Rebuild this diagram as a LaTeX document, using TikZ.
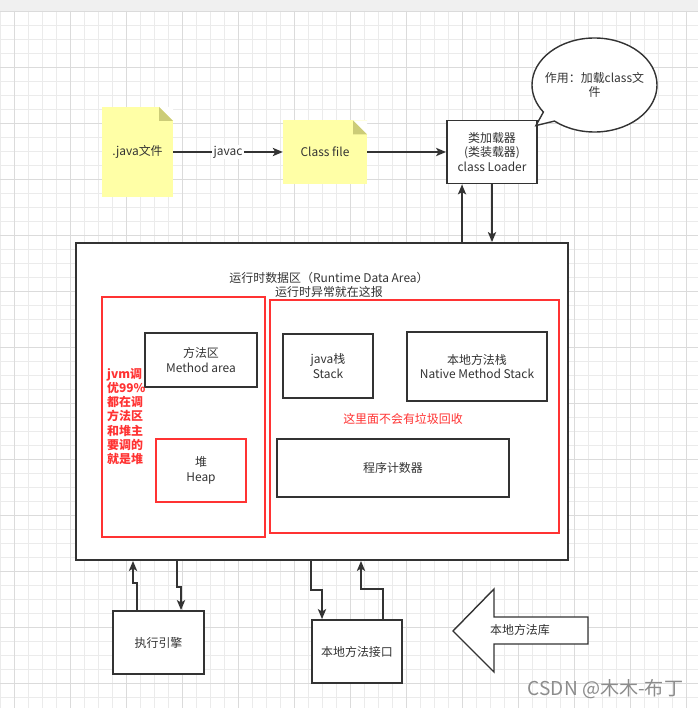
\documentclass[tikz,border=0pt]{standalone}
\usepackage{fontspec}
\setmainfont{Noto Sans CJK SC}
\usetikzlibrary{arrows.meta,shapes.callouts}

\definecolor{inkgray}{HTML}{333333}
\definecolor{notey}{HTML}{FFFFA6}
\definecolor{notefold}{HTML}{CCCC77}
\definecolor{hotred}{HTML}{FF3333}

\begin{document}
\begin{tikzpicture}[x=0.03cm,y=-0.03cm,>={Stealth[length=8.5pt,width=7pt,inset=2pt]},
	every node/.style={font=\fontsize{10.2pt}{12.4pt}\selectfont,text=inkgray,align=center},
	box/.style={draw=inkgray,line width=1.6pt,fill=white},
	redbox/.style={draw=hotred,line width=1.5pt,fill=white},
	notenode/.style={fill=notey,path picture={
		\fill[white] ([xshift=-0.42cm]path picture bounding box.north east) -- (path picture bounding box.north east) -- ([yshift=-0.42cm]path picture bounding box.north east) -- cycle;
		\fill[notefold] ([xshift=-0.42cm]path picture bounding box.north east) -- ([xshift=-0.42cm,yshift=-0.42cm]path picture bounding box.north east) -- ([yshift=-0.42cm]path picture bounding box.north east) -- cycle;}},
	link/.style={->,draw=inkgray,line width=1.5pt},
	gridline/.style={draw=black!8,line width=0.7pt},
	gridmajor/.style={draw=black!14,line width=0.7pt}]

	\useasboundingbox (0,0) rectangle (698,708);
	\fill[black!6] (0,0) rectangle (698,11);
	% background grid
	\foreach \gx in {0,14,...,698} \draw[gridline] (\gx,11) -- (\gx,708);
	\foreach \gy in {11,25,...,708} \draw[gridline] (0,\gy) -- (698,\gy);
	\foreach \gx in {14,70,...,698} \draw[gridmajor] (\gx,11) -- (\gx,708);
	\foreach \gy in {11,67,...,708} \draw[gridmajor] (0,\gy) -- (698,\gy);

	\node [notenode, minimum width=2.13cm, minimum height=2.7cm] (javafile) at (137.5,152) {.java文件};
	\node [notenode, minimum width=2.52cm, minimum height=1.89cm] (classfile) at (325,152) {Class file};
	\node [box, minimum width=2.7cm, minimum height=1.89cm] (loader) at (492,152) {类加载器\\(类装载器)\\class Loader};
	\node [ellipse callout, draw=inkgray, line width=1.2pt, fill=white, inner sep=0pt, minimum width=3.75cm, minimum height=2.82cm,
		callout absolute pointer={([xshift=-0.06cm,yshift=-0.18cm]loader.north east)}] (loadtip) at (594.5,85) {};
	\node (tiptext) at (594.5,85) {作用：加载class文\\件};

	% runtime data area
	\node [box, minimum width=14.76cm, minimum height=9.51cm] (runtime) at (322,401.5) {};
	\node (rtitle) at (329,285) {运行时数据区（Runtime Data Area）\\运行时异常就在这报};

	\node [redbox, minimum width=4.89cm, minimum height=7.2cm] (sharedarea) at (183.5,417) {};
	\node [box, minimum width=3.36cm, minimum height=1.62cm] (method) at (201,360) {方法区\\Method area};
	\node [redbox, minimum width=2.7cm, minimum height=1.89cm] (heap) at (201,470.5) {堆\\Heap};
	\node [anchor=west, inner sep=0pt, align=left, text=hotred, font=\fontsize{10.2pt}{12.1pt}\selectfont\bfseries] (tuning) at (107,416.5)
		{jvm调\\优99\%\\都在调\\方法区\\和堆主\\要调的\\就是堆};

	\node [redbox, minimum width=8.67cm, minimum height=6.99cm] (threadarea) at (414.5,416.5) {};
	\node [box, minimum width=2.7cm, minimum height=1.92cm] (stack) at (328,366) {java栈\\Stack};
	\node [box, minimum width=4.2cm, minimum height=2.07cm] (nstack) at (477,366.5) {本地方法栈\\Native Method Stack};
	\node [text=hotred] (nogc) at (403,419) {这里面不会有垃圾回收};
	\node [box, minimum width=6.96cm, minimum height=1.74cm] (pc) at (393,468) {程序计数器};

	% below the runtime area
	\node [box, minimum width=2.73cm, minimum height=1.89cm] (engine) at (158.5,642.5) {执行引擎};
	\node [box, minimum width=2.7cm, minimum height=1.89cm] (nif) at (357,651.5) {本地方法接口};
	\draw [draw=inkgray, line width=1.2pt, fill=white] (453,631) -- (494,589) -- (494,617) -- (588,617)
		-- (588,644) -- (494,644) -- (494,672) -- cycle;
	\node (nlib) at (520,630) {本地方法库};

	\node [text=black!45, font=\fontsize{16.3pt}{18pt}\selectfont] (mark) at (605.5,689) {CSDN @木木-布丁};

	\draw [link] (javafile.east) -- node [fill=white, inner sep=1pt] {javac} (classfile.west);
	\draw [link] (classfile) -- (loader);
	\draw [link] ([xshift=-0.9cm]loader.south |- runtime.north) -- ([xshift=-0.9cm]loader.south);
	\draw [link] (loader.south) -- (loader.south |- runtime.north);

	\draw [link] ([xshift=-0.645cm]engine.north) -- ++(0,-27) -- ++(-4,0) -- ([xshift=-0.765cm]engine.north |- runtime.south);
	\draw [link] ([xshift=0.555cm]engine.north |- runtime.south) -- ++(0,26) -- ++(4,0) -- ([xshift=0.675cm]engine.north);
	\draw [link] ([xshift=-1.38cm]nif.north |- runtime.south) -- ++(0,29) -- ++(11,0) -- ([xshift=-1.05cm]nif.north);
	\draw [link] ([xshift=0.78cm]nif.north) -- ++(0,-30) -- ++(-22,0) -- ([xshift=0.12cm]nif.north |- runtime.south);

\end{tikzpicture}
\end{document}
